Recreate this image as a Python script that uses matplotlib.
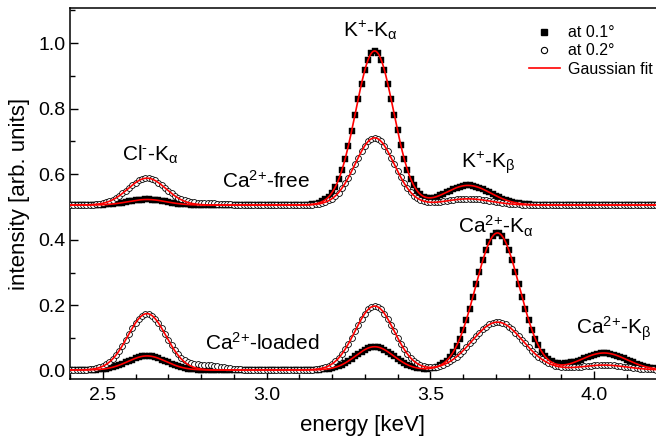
import numpy as np
import matplotlib
matplotlib.use("Agg")
import matplotlib.pyplot as plt
from matplotlib.ticker import MultipleLocator

plt.rcParams['font.family'] = ['Liberation Sans', 'DejaVu Sans']
plt.rcParams['mathtext.fontset'] = 'custom'
plt.rcParams['mathtext.rm'] = 'Liberation Sans'
plt.rcParams['mathtext.it'] = 'Liberation Sans'

# energy grid of the scan [keV], 0.01 keV steps
energy = np.round(np.arange(2.40, 4.195, 0.01), 2)

# Ca2+-free, offset by 0.5
free_01 = [
    .506, .505, .506, .506, .507, .506, .506, .506, .507, .507,
    .507, .508, .508, .509, .511, .512, .513, .515, .517, .519,
    .520, .522, .522, .523, .523, .522, .522, .520, .519, .517,
    .515, .513, .512, .510, .509, .508, .508, .507, .507, .506,
    .506, .505, .506, .506, .507, .506, .506, .505, .506, .506,
    .506, .506, .505, .506, .506, .507, .506, .506, .506, .505,
    .506, .506, .506, .505, .506, .506, .506, .507, .506, .506,
    .506, .506, .507, .507, .508, .510, .512, .517, .523, .532,
    .544, .562, .584, .612, .647, .687, .733, .781, .830, .876,
    .917, .949, .969, .976, .969, .949, .917, .876, .830, .781,
    .734, .688, .648, .614, .587, .566, .549, .539, .532, .529,
    .528, .529, .532, .536, .540, .545, .550, .555, .559, .562,
    .565, .566, .566, .565, .562, .559, .555, .550, .545, .540,
    .535, .530, .526, .522, .518, .515, .513, .511, .510, .509,
    .508, .507, .507, .507, .506, .506, .505, .506, .506, .506,
    .506, .506, .505, .506, .506, .506, .507, .506, .506, .505,
    .506, .506, .506, .505, .506, .506, .506, .506, .505, .506,
    .506, .505, .506, .506, .506, .506, .505, .506, .506, .506,
]
free_02 = [
    .506, .506, .506, .506, .506, .506, .507, .507, .508, .510,
    .512, .514, .518, .522, .528, .534, .542, .550, .558, .567,
    .574, .581, .585, .588, .588, .585, .581, .574, .567, .558,
    .550, .542, .535, .529, .523, .520, .517, .515, .514, .513,
    .512, .512, .512, .511, .511, .510, .509, .509, .508, .508,
    .507, .507, .507, .506, .506, .506, .505, .506, .506, .506,
    .506, .505, .506, .506, .506, .506, .506, .505, .506, .506,
    .506, .506, .506, .507, .507, .508, .510, .512, .515, .520,
    .526, .534, .544, .557, .573, .590, .610, .630, .651, .670,
    .687, .700, .708, .711, .708, .700, .687, .670, .651, .630,
    .610, .591, .573, .558, .545, .535, .527, .522, .518, .516,
    .515, .515, .515, .516, .517, .518, .520, .521, .523, .524,
    .525, .525, .525, .525, .524, .523, .521, .520, .518, .517,
    .515, .514, .512, .511, .510, .509, .508, .508, .507, .507,
    .507, .506, .506, .506, .505, .506, .506, .506, .506, .505,
    .506, .506, .506, .506, .505, .506, .506, .506, .506, .506,
    .505, .506, .506, .506, .506, .506, .505, .506, .506, .506,
    .506, .506, .505, .506, .506, .506, .506, .506, .505, .506,
]

# Ca2+-loaded
loaded_01 = [
    .003, .003, .003, .003, .003, .003, .004, .004, .004, .005,
    .006, .007, .009, .011, .014, .018, .022, .026, .030, .035,
    .039, .042, .045, .046, .046, .045, .042, .039, .035, .030,
    .026, .022, .018, .014, .011, .009, .007, .006, .005, .004,
    .004, .003, .003, .003, .002, .003, .003, .003, .003, .003,
    .003, .002, .003, .003, .003, .003, .003, .002, .003, .003,
    .003, .003, .003, .003, .002, .003, .003, .003, .003, .003,
    .003, .003, .003, .003, .003, .004, .004, .005, .006, .007,
    .009, .011, .015, .019, .024, .030, .037, .045, .052, .059,
    .065, .070, .073, .074, .073, .070, .065, .059, .052, .045,
    .037, .030, .024, .019, .015, .011, .009, .008, .007, .007,
    .008, .010, .013, .017, .023, .032, .043, .058, .077, .099,
    .126, .156, .190, .226, .264, .302, .337, .368, .393, .411,
    .420, .420, .411, .393, .368, .337, .302, .264, .226, .190,
    .156, .126, .099, .078, .059, .045, .036, .029, .025, .023,
    .022, .023, .024, .026, .028, .031, .035, .039, .043, .047,
    .050, .053, .055, .056, .055, .053, .050, .047, .043, .039,
    .035, .030, .026, .022, .018, .015, .012, .010, .008, .007,
]
loaded_02 = [
    .003, .003, .003, .003, .004, .004, .005, .006, .008, .011,
    .014, .020, .027, .036, .048, .062, .077, .095, .113, .130,
    .146, .160, .169, .174, .174, .169, .160, .146, .131, .113,
    .096, .079, .064, .051, .041, .033, .027, .024, .022, .020,
    .019, .019, .018, .017, .016, .014, .012, .011, .009, .008,
    .006, .005, .005, .004, .004, .003, .003, .003, .003, .003,
    .003, .003, .002, .003, .003, .003, .003, .003, .002, .003,
    .003, .003, .003, .004, .004, .005, .006, .009, .012, .016,
    .022, .029, .039, .052, .066, .083, .102, .121, .141, .159,
    .175, .188, .195, .198, .195, .188, .175, .159, .141, .121,
    .102, .083, .066, .052, .040, .030, .023, .017, .014, .012,
    .011, .012, .013, .016, .019, .023, .029, .036, .043, .052,
    .062, .073, .084, .095, .106, .117, .127, .135, .142, .146,
    .149, .149, .146, .142, .135, .127, .117, .106, .095, .084,
    .073, .062, .052, .044, .036, .030, .024, .020, .016, .014,
    .012, .011, .011, .011, .011, .012, .013, .014, .015, .016,
    .017, .017, .018, .018, .018, .017, .017, .016, .015, .013,
    .012, .011, .010, .008, .007, .007, .006, .005, .005, .004,
]

# Gaussian fit parameters: baseline, centres, heights, widths (sigma)
free_centers = [2.635, 3.33, 3.615]
free_01_base, free_01_amp, free_01_sig = 0.506, [0.017, 0.470, 0.060], [0.058, 0.058, 0.070]
free_02_base, free_02_amp, free_02_sig = 0.506, [0.082, 0.205, 0.019], [0.058, 0.060, 0.070]
loaded_centers = [2.635, 3.33, 3.705, 4.03]
loaded_01_base, loaded_01_amp, loaded_01_sig = 0.003, [0.043, 0.071, 0.418, 0.052], [0.058, 0.058, 0.067, 0.070]
loaded_02_base, loaded_02_amp, loaded_02_sig = 0.003, [0.172, 0.195, 0.146, 0.015], [0.058, 0.060, 0.078, 0.070]


def gauss_sum(x, base, centers, amps, sigs):
    y = np.full_like(x, base)
    for c, a, s in zip(centers, amps, sigs):
        y += a * np.exp(-(x - c) ** 2 / (2 * s ** 2))
    return y


fig = plt.figure(figsize=(6.56, 4.44), dpi=100)
ax = fig.add_axes([0.1067, 0.1464, 0.8933, 0.8356])

sq = dict(ls='none', marker='s', ms=4.2, mfc='black', mec='black', mew=0.3, zorder=2)
ci = dict(ls='none', marker='o', ms=4.2, mfc='white', mec='black', mew=0.6, zorder=3)

ax.plot(energy, free_01, **sq)
ax.plot(energy, free_02, **ci)
ax.plot(energy, loaded_01, **sq)
ax.plot(energy, loaded_02, **ci)

xf = np.linspace(2.38, 4.25, 800)
for base, cen, amp, sig in [(free_01_base, free_centers, free_01_amp, free_01_sig),
                            (free_02_base, free_centers, free_02_amp, free_02_sig),
                            (loaded_01_base, loaded_centers, loaded_01_amp, loaded_01_sig),
                            (loaded_02_base, loaded_centers, loaded_02_amp, loaded_02_sig)]:
    ax.plot(xf, gauss_sum(xf, base, cen, amp, sig), color='red', lw=1.2, zorder=4)

ax.set_xlim(2.4, 4.189)
ax.set_ylim(-0.0244, 1.107)
ax.xaxis.set_major_locator(MultipleLocator(0.5))
ax.xaxis.set_minor_locator(MultipleLocator(0.1))
ax.yaxis.set_major_locator(MultipleLocator(0.2))
ax.yaxis.set_minor_locator(MultipleLocator(0.1))
ax.tick_params(which='both', direction='in', labelsize=14, width=1.0)
ax.tick_params(which='major', length=6)
ax.tick_params(which='minor', length=3.5)
ax.tick_params(axis='x', pad=6)
ax.spines['right'].set_visible(False)
for s in ['left', 'bottom', 'top']:
    ax.spines[s].set_linewidth(1.1)

ax.set_xlabel('energy [keV]', fontsize=16, labelpad=8)
ax.set_ylabel('intensity [arb. units]', fontsize=16, labelpad=6)

ca = r'Ca$^{\text{2+}}$'
fs = 15
ax.text(3.316, 1.04, r'K$^{\text{+}}$-K$_{\alpha}$', fontsize=fs, ha='center', va='center')
ax.text(2.644, 0.66, r'Cl$^{\text{-}}$-K$_{\alpha}$', fontsize=fs, ha='center', va='center')
ax.text(3.0, 0.58, ca + '-free', fontsize=fs, ha='center', va='center')
ax.text(3.676, 0.634, r'K$^{\text{+}}$-K$_{\beta}$', fontsize=fs, ha='center', va='center')
ax.text(3.70, 0.44, ca + r'-K$_{\alpha}$', fontsize=fs, ha='center', va='center')
ax.text(2.986, 0.085, ca + '-loaded', fontsize=fs, ha='center', va='center')
ax.text(4.058, 0.13, ca + r'-K$_{\beta}$', fontsize=fs, ha='center', va='center')

h1, = ax.plot([], [], ls='none', marker='s', ms=4.5, color='black')
h2, = ax.plot([], [], ls='none', marker='o', ms=4.5, mfc='white', mec='black', mew=0.8)
h3, = ax.plot([], [], color='red', lw=1.2)
ax.legend([h1, h2, h3], ['at 0.1°', 'at 0.2°', 'Gaussian fit'], loc='upper left',
          bbox_to_anchor=(0.77, 0.975), frameon=False, fontsize=11.5,
          handlelength=1.9, handletextpad=0.5, labelspacing=0.2, borderpad=0)

fig.savefig('out.png', dpi=100)
